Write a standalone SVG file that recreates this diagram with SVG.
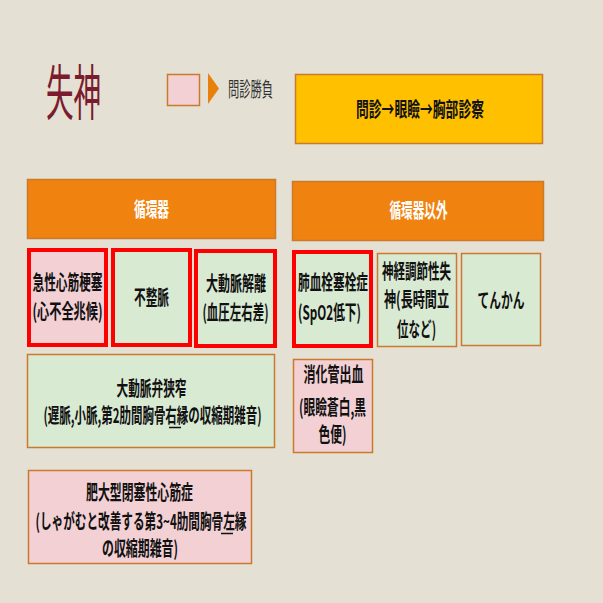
<svg xmlns="http://www.w3.org/2000/svg" width="603" height="603" viewBox="0 0 603 603">
<style>
.t{font-family:"Noto Sans CJK JP","Noto Sans",sans-serif;font-weight:bold;font-size:20px;text-anchor:middle;fill:#111}
.h{font-family:"Noto Sans CJK JP","Noto Sans",sans-serif;font-weight:bold;font-size:20px;text-anchor:middle;fill:#fff}
.thin{stroke:#c97a2c;stroke-width:1.5}
.red{stroke:#ff0000;stroke-width:4}
.pink{fill:#f2d0d4}
.green{fill:#d9ead3}
.hdr{fill:#f0820f;stroke:#c97a2c;stroke-width:1.5}
.ul{stroke:#111;stroke-width:1.5}
</style>
<rect width="603" height="603" fill="#e4e0d4"/>
<g id="title">
<text x="46" y="115" font-family="Noto Sans CJK JP,sans-serif" font-size="60" fill="#7b1c2e" textLength="55" lengthAdjust="spacingAndGlyphs">失神</text>
</g>
<g id="legend">
<rect x="167.5" y="74.5" width="32" height="31" class="pink thin"/>
<polygon points="208,73 219,88.5 208,104" fill="#e8800c"/>
<text x="228" y="96.5" font-family="Noto Sans CJK JP,sans-serif" font-size="20" fill="#333" textLength="45" lengthAdjust="spacingAndGlyphs">問診勝負</text>
</g>
<g id="flow">
<rect x="295.5" y="74.5" width="247" height="69" fill="#ffc000" stroke="#c97a2c" stroke-width="1.5"/>
<text x="420" y="117" class="t" font-size="24" textLength="128" lengthAdjust="spacingAndGlyphs">問診→眼瞼→胸部診察</text>
</g>
<g id="hdr-circ">
<rect x="27.5" y="179.5" width="248" height="59" class="hdr"/>
<text x="151.5" y="216.5" class="h" textLength="35" lengthAdjust="spacingAndGlyphs">循環器</text>
</g>
<g id="hdr-other">
<rect x="292.5" y="181.5" width="251" height="59" class="hdr"/>
<text x="418.5" y="217.5" class="h" textLength="58" lengthAdjust="spacingAndGlyphs">循環器以外</text>
</g>
<g id="ami">
<rect x="29" y="250" width="77" height="95" class="pink red"/>
<text x="67.5" y="290" class="t" textLength="70" lengthAdjust="spacingAndGlyphs">急性心筋梗塞</text>
<text x="67.5" y="319" class="t" textLength="70" lengthAdjust="spacingAndGlyphs">(心不全兆候)</text>
</g>
<g id="arrhythmia">
<rect x="113" y="250" width="77" height="95" class="green red"/>
<text x="151.5" y="305" class="t" textLength="35" lengthAdjust="spacingAndGlyphs">不整脈</text>
</g>
<g id="dissection">
<rect x="196" y="251" width="79" height="95" class="green red"/>
<text x="236" y="291" class="t" textLength="60" lengthAdjust="spacingAndGlyphs">大動脈解離</text>
<text x="235.5" y="320" class="t" textLength="66" lengthAdjust="spacingAndGlyphs">(血圧左右差)</text>
</g>
<g id="pe">
<rect x="294" y="252" width="77" height="94" class="green red"/>
<text x="333" y="290" class="t" textLength="70" lengthAdjust="spacingAndGlyphs">肺血栓塞栓症</text>
<text x="329.5" y="320" class="t" textLength="63" lengthAdjust="spacingAndGlyphs">(SpO2低下)</text>
</g>
<g id="vasovagal">
<rect x="377.5" y="253.5" width="79" height="93" class="green thin"/>
<text x="416.5" y="279" class="t" textLength="69" lengthAdjust="spacingAndGlyphs">神経調節性失</text>
<text x="416.5" y="307" class="t" textLength="65" lengthAdjust="spacingAndGlyphs">神(長時間立</text>
<text x="416.5" y="337" class="t" textLength="39" lengthAdjust="spacingAndGlyphs">位など)</text>
</g>
<g id="epilepsy">
<rect x="461.5" y="253.5" width="79" height="92" class="green thin"/>
<text x="501" y="308" class="t" textLength="47" lengthAdjust="spacingAndGlyphs">てんかん</text>
</g>
<g id="as">
<rect x="27.5" y="354.5" width="247" height="93" class="green thin"/>
<text x="151.5" y="395.5" class="t" textLength="70" lengthAdjust="spacingAndGlyphs">大動脈弁狭窄</text>
<text x="152.5" y="422.5" class="t" textLength="218" lengthAdjust="spacingAndGlyphs">(遅脈,小脈,第2肋間胸骨右縁の収縮期雑音)</text>
<line x1="169" y1="427.5" x2="181" y2="427.5" class="ul"/>
</g>
<g id="gi">
<rect x="293.5" y="359.5" width="79" height="93" class="pink thin"/>
<text x="333.5" y="381.5" class="t" textLength="60" lengthAdjust="spacingAndGlyphs">消化管出血</text>
<text x="332.5" y="414.5" class="t" textLength="67" lengthAdjust="spacingAndGlyphs">(眼瞼蒼白,黒</text>
<text x="332.5" y="441.5" class="t" textLength="28" lengthAdjust="spacingAndGlyphs">色便)</text>
</g>
<g id="hocm">
<rect x="28.5" y="470.5" width="223" height="93" class="pink thin"/>
<text x="139.5" y="499.5" class="t" textLength="107" lengthAdjust="spacingAndGlyphs">肥大型閉塞性心筋症</text>
<text x="141" y="528.5" class="t" textLength="211" lengthAdjust="spacingAndGlyphs">(しゃがむと改善する第3~4肋間胸骨左縁</text>
<line x1="221" y1="533.5" x2="233" y2="533.5" class="ul"/>
<text x="140" y="555.5" class="t" textLength="76" lengthAdjust="spacingAndGlyphs">の収縮期雑音)</text>
</g>
<g id="connectors"></g>
</svg>
